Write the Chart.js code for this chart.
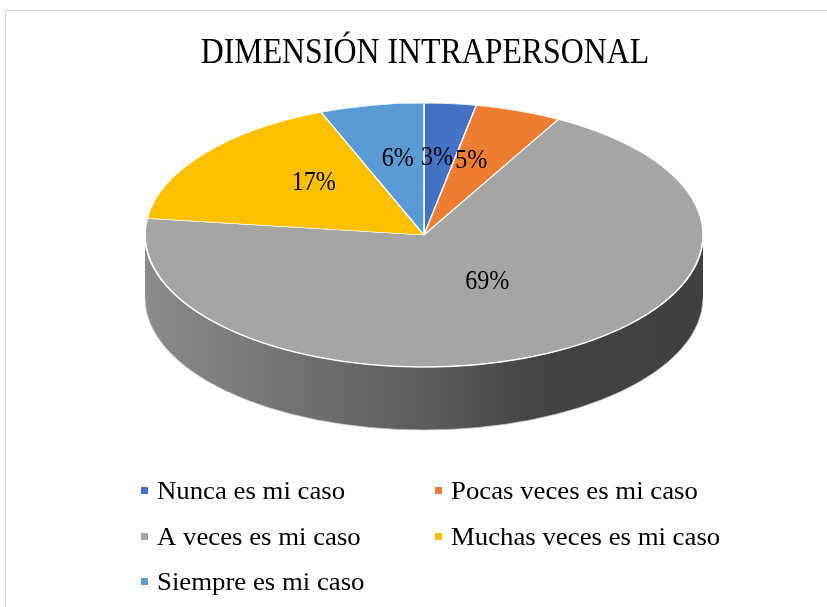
<!DOCTYPE html>
<html>
<head>
<meta charset="utf-8">
<script src="https://cdn.jsdelivr.net/npm/chart.js@4.4.1/dist/chart.umd.min.js"></script>
<style>
  html, body { margin: 0; padding: 0; background: #fff; }
  #wrap { width: 827px; height: 607px; }
</style>
</head>
<body>
<div id="wrap"><canvas id="pieChart" width="827" height="607"></canvas></div>
<script>
const labels = ['Nunca es mi caso', 'Pocas veces es mi caso', 'A veces es mi caso', 'Muchas veces es mi caso', 'Siempre es mi caso'];
const percents = [3, 5, 69, 17, 6];
const colors = ['#4472C4', '#ED7D31', '#A5A5A5', '#FFC000', '#5B9BD5'];
const chartTitle = 'DIMENSIÓN INTRAPERSONAL';

// where the flattened pie sits on the page (apex = perspective centre used for labels)
const pie3d = { cx: 424, cy: 235, rx: 279, ry: 132, depth: 63, apexY: 208 };
const serif = '"Liberation Serif", "Times New Roman", serif';

function shade(hex, f) {
  const n = parseInt(hex.slice(1), 16);
  const r = Math.round(((n >> 16) & 255) * f);
  const g = Math.round(((n >> 8) & 255) * f);
  const b = Math.round((n & 255) * f);
  return 'rgb(' + r + ',' + g + ',' + b + ')';
}

// part of [s,e] that faces the viewer (canvas angles 0..PI)
function frontPart(s, e) {
  const out = [];
  for (let k = -1; k <= 1; k++) {
    const a = Math.max(s + k * 2 * Math.PI, 0);
    const b = Math.min(e + k * 2 * Math.PI, Math.PI);
    if (b > a) out.push([a, b]);
  }
  return out;
}

function condensedText(ctx, txt, x, y, size, sx, align) {
  ctx.save();
  ctx.font = size + 'px ' + serif;
  ctx.textAlign = align || 'center';
  ctx.textBaseline = 'alphabetic';
  ctx.translate(x, y);
  ctx.scale(sx, 1);
  ctx.fillText(txt, 0, 0);
  ctx.restore();
}

const tiltPlugin = {
  id: 'tilt',
  beforeDraw(chart) {
    const ctx = chart.ctx;
    ctx.save();
    ctx.strokeStyle = '#d9d9d9';
    ctx.lineWidth = 1;
    ctx.strokeRect(5.5, 10.5, 900, 700);
    ctx.fillStyle = '#000';
    condensedText(ctx, chartTitle, 425, 63, 35, 0.91);
    ctx.restore();
  },
  beforeDatasetsDraw(chart) {
    const ctx = chart.ctx;
    const meta = chart.getDatasetMeta(0);
    const { cx, cy, rx, ry, depth } = pie3d;
    // extruded side
    meta.data.forEach((arc, i) => {
      frontPart(arc.startAngle, arc.endAngle).forEach(([a, b]) => {
        const grad = ctx.createLinearGradient(cx - rx, 0, cx + rx, 0);
        grad.addColorStop(0, shade(colors[i], 0.84));
        grad.addColorStop(0.5, shade(colors[i], 0.56));
        grad.addColorStop(0.7, shade(colors[i], 0.41));
        grad.addColorStop(1, shade(colors[i], 0.39));
        ctx.beginPath();
        ctx.ellipse(cx, cy, rx, ry, 0, a, b, false);
        ctx.ellipse(cx, cy + depth, rx, ry, 0, b, a, true);
        ctx.closePath();
        ctx.fillStyle = grad;
        ctx.fill();
      });
    });
    ctx.save();
    ctx.strokeStyle = 'rgba(200,200,200,0.7)';
    ctx.lineWidth = 1;
    ctx.beginPath();
    ctx.ellipse(cx, cy + depth, rx, ry, 0, 0, Math.PI, false);
    ctx.stroke();
    ctx.restore();
    // squash the round pie into the top face
    const a0 = meta.data[0];
    const R = a0.outerRadius;
    ctx.save();
    ctx.translate(cx, cy);
    ctx.scale(rx / R, ry / R);
    ctx.translate(-a0.x, -a0.y);
  },
  afterDatasetsDraw(chart) {
    const ctx = chart.ctx;
    ctx.restore();
    const { cx, cy, rx, ry, apexY } = pie3d;
    ctx.save();
    ctx.strokeStyle = 'rgba(255,255,255,0.85)';
    ctx.lineWidth = 1.5;
    ctx.beginPath();
    ctx.ellipse(cx, cy, rx, ry, 0, 0.02, Math.PI - 0.02, false);
    ctx.stroke();
    // value labels, halfway from the apex to the rim
    ctx.fillStyle = '#000';
    const meta = chart.getDatasetMeta(0);
    meta.data.forEach((arc, i) => {
      const mid = (arc.startAngle + arc.endAngle) / 2;
      const ex = cx + rx * Math.cos(mid);
      const ey = cy + ry * Math.sin(mid);
      const px = cx + 0.5 * (ex - cx);
      const py = apexY + 0.5 * (ey - apexY);
      condensedText(ctx, percents[i] + '%', px, py + 9, 28, 0.86);
    });
    // legend, two columns
    const colX = [141, 435];
    const rowY = [491, 537, 582];
    labels.forEach((lab, i) => {
      const x = colX[i % 2];
      const y = rowY[Math.floor(i / 2)];
      ctx.fillStyle = colors[i];
      ctx.fillRect(x, y - 4, 7, 7);
      ctx.fillStyle = '#000';
      condensedText(ctx, lab, x + 16, y + 8, 26, 1.03, 'left');
    });
    ctx.restore();
  }
};

const data = {
  labels: labels,
  datasets: [{
    data: percents,
    backgroundColor: colors,
    borderColor: '#ffffff',
    borderWidth: 1.6,
    clip: false
  }]
};

const config = {
  type: 'pie',
  data: data,
  options: {
    responsive: false,
    animation: false,
    events: [],
    layout: { padding: 0 },
    plugins: {
      legend: { display: false },
      title: { display: false },
      tooltip: { enabled: false }
    }
  },
  plugins: [tiltPlugin]
};

document.addEventListener('DOMContentLoaded', () => {
  const ctx = document.getElementById('pieChart').getContext('2d');
  new Chart(ctx, config);
});
</script>
</body>
</html>
